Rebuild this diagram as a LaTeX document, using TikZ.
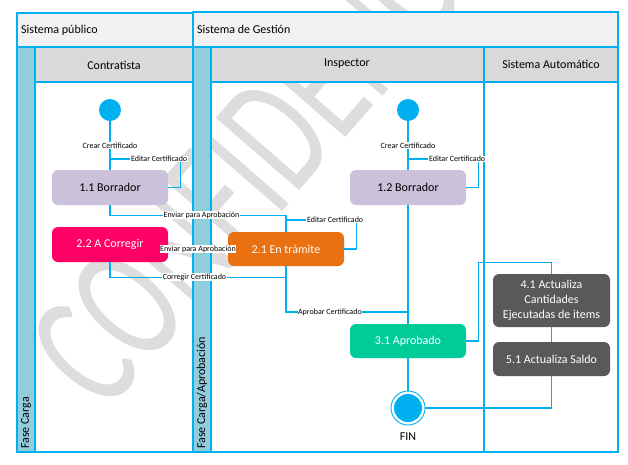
\documentclass[tikz,border=0pt]{standalone}
\usepackage{fontspec}
\setmainfont{Carlito}
\usetikzlibrary{positioning}

\definecolor{laneblue}{HTML}{00B0F0}
\definecolor{topgray}{HTML}{F2F2F2}
\definecolor{headgray}{HTML}{D9D9D9}
\definecolor{barblue}{HTML}{92CDDC}
\definecolor{borradorc}{HTML}{CCC1DA}
\definecolor{corregirc}{HTML}{FF0066}
\definecolor{tramitec}{HTML}{E97112}
\definecolor{aprobadoc}{HTML}{00CC99}
\definecolor{autoc}{HTML}{595959}
\definecolor{markc}{HTML}{DDDDDD}

\begin{document}
\begin{tikzpicture}[x=1pt,y=-1pt,
		lane/.style={
			draw=laneblue,
			line width=1.3pt
		},
		state/.style={
			rounded corners=6pt,
			align=center,
			minimum width=116pt,
			minimum height=35pt,
			inner sep=2pt,
			font=\fontsize{12}{15}\selectfont
		},
		startdot/.style={circle, fill=laneblue, minimum size=22pt, inner sep=0pt},
		conn/.style={draw=laneblue, line width=1.1pt},
		lbl/.style={font=\fontsize{8}{9}\selectfont, fill=white, inner sep=0.6pt},
		lanetext/.style={font=\fontsize{12}{14}\selectfont, inner sep=0pt}
		]
		
		\useasboundingbox (0,0) rectangle (628,464);
		
		% Watermark
		\begin{scope}
			\clip (0,0) rectangle (628,464);
			\node[text=markc, rotate=49, inner sep=0pt] (mark) at (290,118)
			{\scalebox{0.66}[1]{\fontsize{172}{172}\selectfont CONFIDENCIAL}};
		\end{scope}
		
		% Pools and lanes
		\path[lane, fill=topgray] (17,13) rectangle (193,47);
		\path[lane, fill=topgray] (193,12) rectangle (618,47);
		\path[lane, fill=headgray] (35,47) rectangle (193,82);
		\path[lane, fill=headgray] (211,47) rectangle (484,82);
		\path[lane, fill=headgray] (484,47) rectangle (618,82);
		\path[lane, fill=barblue] (17,47) rectangle (35,452);
		\path[lane, fill=barblue] (193,47) rectangle (211,452);
		\draw[lane] (35,82) rectangle (193,452);
		\draw[lane] (211,82) rectangle (484,452);
		\draw[lane] (484,82) rectangle (618,452);
		\draw[lane, line width=2pt] (17,452) -- (618,452);
		
		\node[lanetext, anchor=west] (publico) at (21,30) {Sistema público};
		\node[lanetext, anchor=west] (gestion) at (197,29) {Sistema de Gestión};
		\node[lanetext] (contratista) at (114,65) {Contratista};
		\node[lanetext] (inspector) at (347,64) {Inspector};
		\node[lanetext] (automatico) at (551,64) {Sistema Automático};
		\node[lanetext, rotate=90, anchor=west] (fase1) at (26,449) {Fase Carga};
		\node[lanetext, rotate=90, anchor=west] (fase2) at (202,449) {Fase Carga/Aprobación};
		
		% States
		\node[startdot] (s1) at (110,110) {};
		\node[startdot] (s2) at (408,110) {};
		\node[state, fill=borradorc] (b11) at (110,187.5) {1.1 Borrador};
		\node[state, fill=corregirc, text=white] (c22) at (110,244.5) {2.2 A Corregir};
		\node[state, fill=tramitec, text=white, minimum height=34pt] (t21) at (286,249) {2.1 En trámite};
		\node[state, fill=borradorc] (b12) at (408,187.5) {1.2 Borrador};
		\node[state, fill=aprobadoc, text=white, minimum height=34pt] (a31) at (408,341) {3.1 Aprobado};
		\node[state, fill=autoc, text=white, minimum width=117pt, minimum height=53pt] (a41) at (551.5,300.5)
		{4.1 Actualiza\\Cantidades\\Ejecutadas de items};
		\node[state, fill=autoc, text=white, minimum width=117pt, minimum height=34pt] (a51) at (551.5,359)
		{5.1 Actualiza Saldo};
		
		% End state
		\node[circle, draw=laneblue, line width=0.9pt, minimum size=34pt, inner sep=0pt] (fin) at (408,408) {};
		\node[circle, fill=laneblue, minimum size=28pt, inner sep=0pt] (fincore) at (fin) {};
		\node[lanetext] (finlbl) at (408,437) {FIN};
		
		% Transitions
		\coordinate (e11) at (110,159);
		\coordinate (e12) at (408,159);
		\coordinate (e21) at (286,220);
		\coordinate (j31) at (408,312);
		
		\draw[conn] (s1) -- node[lbl] {Crear Certificado} (b11);
		\draw[conn] (b11.east) -- ++(12,0) |- node[lbl, pos=0.65] {Editar Certificado} (e11);
		\draw[conn] (b11.south) -- ++(0,10) -| node[lbl, pos=0.26] {Enviar para Aprobación} (t21.north);
		\draw[conn] (t21.east) -- ++(12,0) |- node[lbl, pos=0.65] {Editar Certificado} (e21);
		\draw[conn] (t21.west) -- node[lbl] {Enviar para Aprobación} (t21.west -| c22.east);
		\draw[conn] (t21.south) -- ++(0,11) -| node[lbl, pos=0.26] {Corregir Certificado} (c22.south);
		\draw[conn] (t21.south) |- node[lbl, pos=0.68] {Aprobar Certificado} (j31);
		
		\draw[conn] (s2) -- node[lbl] {Crear Certificado} (b12);
		\draw[conn] (b12.east) -- ++(12,0) |- node[lbl, pos=0.65] {Editar Certificado} (e12);
		\draw[conn] (b12.south) -- (a31.north);
		\draw[conn] (a31.south) -- (fin.north);
		\draw[conn] (a31.east) -- ++(12,0) |- ([yshift=11pt]a41.north) -- (a41.north);
		\draw[conn] (a41.south) -- (a51.north);
		\draw[conn] (a51.south) |- (fin.east);
		
	\end{tikzpicture}
\end{document}
